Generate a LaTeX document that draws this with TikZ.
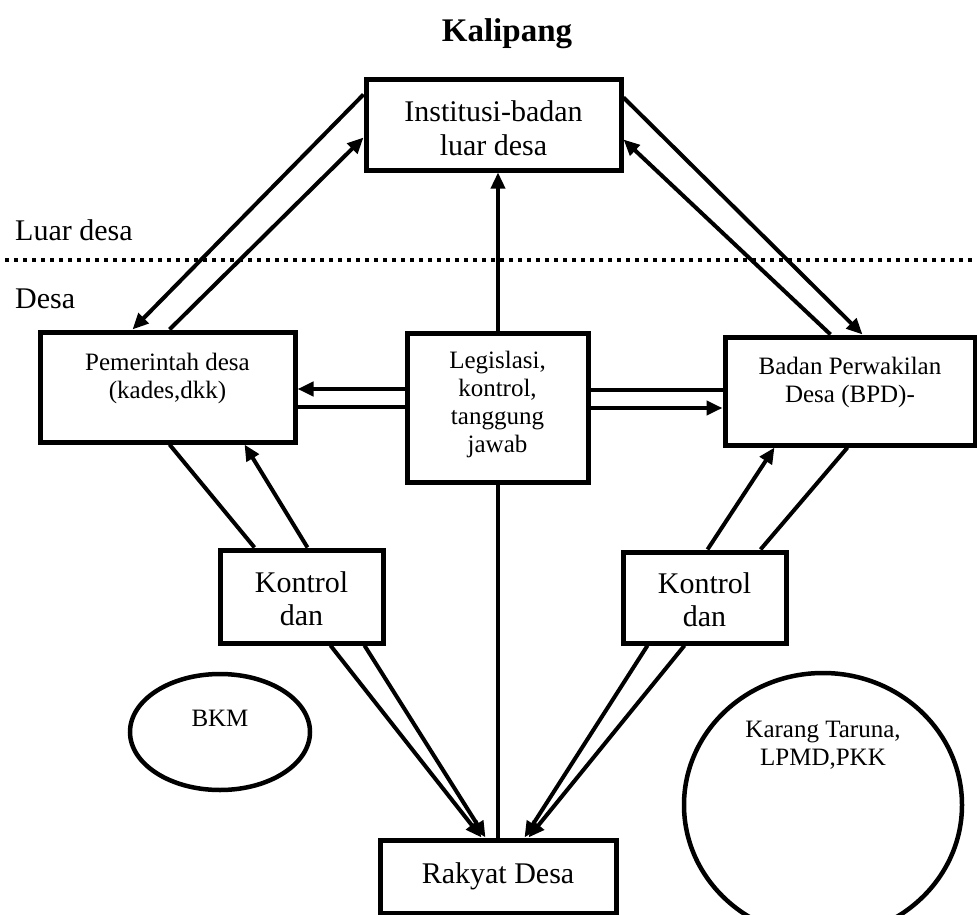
\documentclass[tikz,border=0pt]{standalone}
\usepackage{fontspec}
\setmainfont{Liberation Serif}
\usetikzlibrary{arrows.meta,calc,shapes.geometric}
\newcommand\liftxt[2]{\raisebox{#1}[0pt][0pt]{\begin{tabular}[b]{@{}c@{}}#2\end{tabular}}}
\begin{document}
\begin{tikzpicture}[x=1pt,y=-1pt,
  box/.style={draw, line width=5pt, rectangle, inner sep=0pt, fill=white},
  big/.style={font=\fontsize{30}{33}\selectfont},
  small/.style={font=\fontsize{25}{28}\selectfont},
  ell/.style={draw, ellipse, line width=4.5pt, inner sep=0pt},
  con/.style={line width=4pt},
  arr/.style={con, -{Triangle[length=16pt,width=14pt]}},
]
\useasboundingbox (0,0) rectangle (977,915);

% title and zone labels
\node[font=\bfseries\fontsize{33}{36}\selectfont, anchor=base, inner sep=0pt] (title) at (507,42) {Kalipang};
\node[big, anchor=base west, inner sep=0pt] (luar) at (15,240) {Luar desa};
\node[big, anchor=base west, inner sep=0pt] (desa) at (15,308) {Desa};
\coordinate (dl) at (5,260);
\coordinate (dr) at (977,260);
\draw[line width=4pt, dash pattern=on 4pt off 5pt] (dl) -- (dr);

% boxes
\node[box,big,minimum width=255pt,minimum height=90pt] (inst) at (493.5,125)
  {\liftxt{-30pt}{Institusi-badan\\luar desa}};
\node[box,small,minimum width=255pt,minimum height=110pt] (pem) at (167.5,387)
  {\liftxt{-11pt}{Pemerintah desa\\(kades,dkk)}};
\node[box,small,minimum width=181pt,minimum height=149pt] (leg) at (497.5,407.5)
  {\liftxt{-44.5pt}{Legislasi,\\kontrol,\\tanggung\\jawab}};
\node[box,small,minimum width=250pt,minimum height=108pt] (bpd) at (850,391)
  {\liftxt{-11pt}{Badan Perwakilan\\Desa (BPD)-}};
\node[box,big,minimum width=163pt,minimum height=93pt] (kl) at (301.5,596.5)
  {\liftxt{-28.5pt}{Kontrol\\dan}};
\node[box,big,minimum width=163pt,minimum height=91pt] (kr) at (704.5,597.5)
  {\liftxt{-28.5pt}{Kontrol\\dan}};
\node[box,big,minimum width=236pt,minimum height=73pt] (rak) at (498,876.5)
  {\liftxt{-6.5pt}{Rakyat Desa}};

% ellipses
\node[ell,small,minimum width=180pt,minimum height=116pt] (bkm) at (220,732)
  {\liftxt{6pt}{BKM}};
\begin{scope}
\clip (0,0) rectangle (977,915);
\node[ell,small,minimum width=278pt,minimum height=264pt] (kt) at (823,805)
  {\liftxt{40pt}{Karang Taruna,\\LPMD,PKK}};
\end{scope}

% Institusi <-> Pemerintah
\draw[arr] ($(inst.north west)+(0,17)$) -- ($(pem.north west)+(95,0)$);
\draw[arr] ($(pem.north west)+(132,0)$) -- ($(inst.north west)+(0,60)$);
% Institusi <-> BPD
\draw[arr] ($(inst.north east)+(0,20)$) -- ($(bpd.north west)+(140,0)$);
\draw[arr] ($(bpd.north west)+(108,0)$) -- ($(inst.north east)+(0,62)$);
% centre line Rakyat -> Institusi
\draw[con, line width=3.5pt] (rak.north) -- (rak.north |- leg.south);
\draw[arr, line width=3.5pt] (rak.north |- leg.north) -- (rak.north |- inst.south);
% Legislasi -> Pemerintah / BPD
\draw[arr] ($(leg.west)+(0,-18.5)$) -- ($(pem.east)+(0,2)$);
\draw[con] ($(pem.east)+(0,20)$) -- ($(leg.west)+(0,-0.5)$);
\draw[con] ($(leg.east)+(0,-17.5)$) -- ($(bpd.west)+(0,-1)$);
\draw[arr] ($(leg.east)+(0,0.5)$) -- ($(bpd.west)+(0,17)$);
% Pemerintah <-> Kontrol (left)
\draw[con] ($(pem.south west)+(132,0)$) -- ($(kl.north west)+(37,0)$);
\draw[arr] ($(kl.north west)+(90,0)$) -- ($(pem.south west)+(207,0)$);
% BPD <-> Kontrol (right)
\draw[arr] ($(kr.north west)+(87,0)$) -- ($(bpd.south west)+(52,0)$);
\draw[con] ($(bpd.south west)+(125,0)$) -- ($(kr.north west)+(140,0)$);
% Kontrol -> Rakyat
\draw[arr] ($(kl.south west)+(113,0)$) -- ($(rak.north west)+(104,0)$);
\draw[arr] ($(kl.south west)+(147,0)$) -- ($(rak.north west)+(108,0)$);
\draw[arr] ($(kr.south west)+(27,0)$) -- ($(rak.north west)+(147,0)$);
\draw[arr] ($(kr.south west)+(64,0)$) -- ($(rak.north west)+(151,0)$);
\end{tikzpicture}
\end{document}
